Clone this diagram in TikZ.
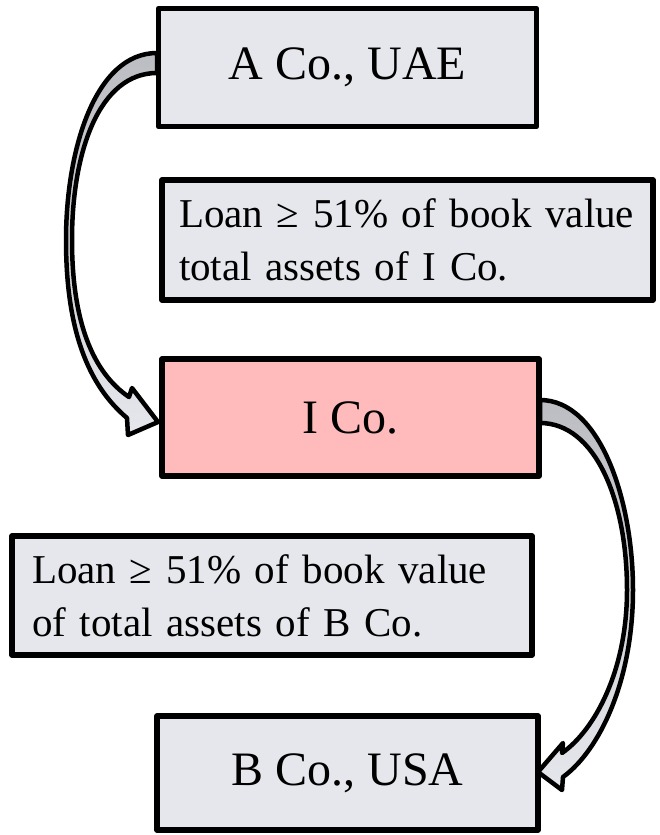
\documentclass[tikz,border=0pt]{standalone}
\usepackage{fontspec}
\setmainfont{Liberation Serif}
\definecolor{boxgray}{HTML}{E6E7EC}
\definecolor{boxpink}{HTML}{FFBBBB}
\definecolor{arrowdark}{HTML}{BCBDC2}
\definecolor{arrowlight}{HTML}{E6E7EC}
\begin{document}
\begin{tikzpicture}[x=1pt,y=-1pt,
  company/.style={draw=black, line width=5.5pt, line join=round, fill=boxgray,
     inner sep=0pt, font=\fontsize{48}{56}\selectfont},
  labelbox/.style={draw=black, line width=5.5pt, line join=round, fill=boxgray,
     inner sep=0pt, align=left, font=\fontsize{41}{53}\selectfont},
  bandarrow/.style={draw=black, line width=4.5pt, line join=round,
     top color=arrowdark, bottom color=arrowlight}
]
\useasboundingbox (0,0) rectangle (659,835);

\node[company, minimum width=378pt, minimum height=118pt] (A) at (347.5,67.5) {A Co., UAE};
\node[labelbox, minimum width=491pt, minimum height=120pt, text width=457pt] (L1) at (407.5,240)
  {Loan ≥ 51\% of book value\\total assets of I Co.};
\node[company, fill=boxpink, minimum width=377pt, minimum height=117pt] (I) at (350.5,417.5) {I Co.};
\node[labelbox, minimum width=520pt, minimum height=119pt, text width=480pt] (L2) at (272,595.5)
  {Loan ≥ 51\% of book value\\of total assets of B Co.};
\node[company, minimum width=381pt, minimum height=114pt] (B) at (347.5,773) {B Co., USA};

% curved arrow A -> I
\path[bandarrow]
  (157,53) .. controls (95,53) and (66,150) .. (66,240)
  .. controls (66,330) and (88,385) .. (127,418)
  -- (128,435) -- (158,422) -- (132,388) -- (129,397)
  .. controls (92,372) and (72,320) .. (72,240)
  .. controls (72,150) and (100,73) .. (157,73) -- cycle;

% curved arrow I -> B
\path[bandarrow]
  (540,400) .. controls (600,400) and (633,500) .. (633,590)
  .. controls (633,680) and (600,750) .. (563,777)
  -- (562,790) -- (538,772) -- (563,743) -- (562,753)
  .. controls (595,730) and (627,670) .. (627,590)
  .. controls (627,500) and (595,423) .. (540,423) -- cycle;
\end{tikzpicture}
\end{document}
